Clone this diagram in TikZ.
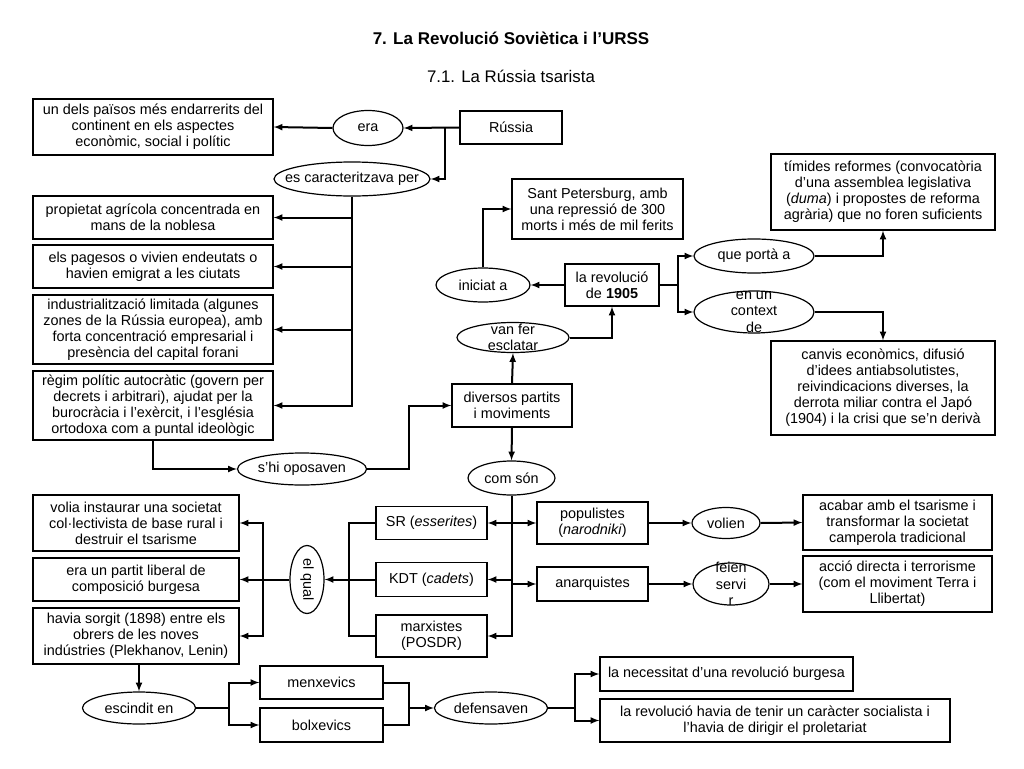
\documentclass[tikz,border=0pt]{standalone}
\usepackage{fontspec}
\setmainfont{Liberation Sans}
\usepackage{graphicx}
\usetikzlibrary{shapes.geometric}
\newcommand{\flatbox}[1]{\makebox[0pt]{#1}}
\begin{document}
\begin{tikzpicture}[x=1pt, y=-1pt,
    box/.style={draw, line width=1.2pt, align=center, inner sep=1pt, font=\fontsize{14.4}{16}\selectfont},
    oval/.style={draw, ellipse, line width=1.2pt, align=center, inner sep=0pt, font=\fontsize{14.4}{16}\selectfont},
    tag/.style={align=center, inner sep=0pt, font=\fontsize{14.4}{16.5}\selectfont},
    arr/.style={-latex, line width=2pt},
    link/.style={line width=2pt}]
    \useasboundingbox (0,0) rectangle (1024,768);

    % Titles
    \node[font=\bfseries\fontsize{17}{20}\selectfont] (title) at (511,38) {7. La Revolució Soviètica i l’URSS};
    \node[font=\fontsize{16.8}{20}\selectfont] (subtitle) at (511,76) {7.1. La Rússia tsarista};

    % Russia and its features
    \node[box, minimum width=102, minimum height=33] (russia) at (511,127.5) {Rússia};
    \node[oval, minimum width=70, minimum height=35] (era) at (368,128) {\flatbox{era}};
    \node[box, minimum width=240, minimum height=56] (endarrerit) at (153,127) {un dels països més endarrerits del\\continent en els aspectes\\econòmic, social i polític};
    \node[oval, minimum width=156, minimum height=34] (caract) at (352,179) {\flatbox{es caracteritzava per}};
    \node[box, minimum width=240, minimum height=43] (propietat) at (153,217.5) {propietat agrícola concentrada en\\mans de la noblesa};
    \node[box, minimum width=240, minimum height=43] (pagesos) at (153,266.5) {els pagesos o vivien endeutats o\\havien emigrat a les ciutats};
    \node[box, minimum width=240, minimum height=69] (industria) at (153,329.5) {industrialització limitada (algunes\\zones de la Rússia europea), amb\\forta concentració empresarial i\\presència del capital forani};
    \node[box, minimum width=240, minimum height=69] (regim) at (153,405.5) {règim polític autocràtic (govern per\\decrets i arbitrari), ajudat per la\\burocràcia i l’exèrcit, i l’església\\ortodoxa com a puntal ideològic};

    % Opposition and 1905
    \node[oval, minimum width=129, minimum height=32] (oposen) at (302,469) {\flatbox{s’hi oposaven}};
    \node[box, minimum width=120, minimum height=43] (diversos) at (512,405.5) {diversos partits\\i moviments};
    \node[oval, minimum width=112, minimum height=30, label={[tag]center:van fer\\esclatar}] (vanfer) at (513,337.5) {};
    \node[box, minimum width=94, minimum height=42] (revol) at (612,285) {la revolució\\de \textbf{1905}};
    \node[oval, minimum width=94, minimum height=34] (iniciat) at (483,285) {\flatbox{iniciat a}};
    \node[box, minimum width=171, minimum height=60] (sant) at (597.5,209) {Sant Petersburg, amb\\una repressió de 300\\morts i més de mil ferits};
    \node[oval, minimum width=120, minimum height=34] (porta) at (754,256) {\flatbox{que portà a}};
    \node[oval, minimum width=120, minimum height=42, label={[tag]center:en un\\context\\de}] (context) at (754,312) {};
    \node[box, minimum width=224, minimum height=76] (timides) at (883,192) {tímides reformes (convocatòria\\d’una assemblea legislativa\\(\textit{duma}) i propostes de reforma\\agrària) que no foren suficients};
    \node[box, minimum width=224, minimum height=94] (canvis) at (883,388) {canvis econòmics, difusió\\d’idees antiabsolutistes,\\reivindicacions diverses, la\\derrota miliar contra el Japó\\(1904) i la crisi que se’n derivà};

    % Parties
    \node[oval, minimum width=87, minimum height=34] (comson) at (511.5,478) {\flatbox{com són}};
    \node[box, minimum width=111, minimum height=33] (sr) at (431.5,523) {SR (\textit{esserites})};
    \node[box, minimum width=111, minimum height=34] (kdt) at (431.5,579.5) {KDT (\textit{cadets})};
    \node[box, minimum width=111, minimum height=42] (marx) at (431.5,636) {marxistes\\(POSDR)};
    \node[box, minimum width=111, minimum height=42] (popul) at (592.5,523) {populistes\\(\textit{narodniki})};
    \node[box, minimum width=111, minimum height=34] (anarq) at (592.5,584) {anarquistes};
    \node[oval, minimum width=68, minimum height=31] (volien) at (726,523) {\flatbox{volien}};
    \node[oval, minimum width=76, minimum height=42, label={[tag]center:feien\\servi\\r}] (feien) at (731,584) {};
    \node[box, minimum width=189, minimum height=55] (acabar) at (897.5,522.5) {acabar amb el tsarisme i\\transformar la societat\\camperola tradicional};
    \node[box, minimum width=189, minimum height=56] (accio) at (897.5,584) {acció directa i terrorisme\\(com el moviment Terra i\\Llibertat)};
    \node[oval, minimum width=34, minimum height=68] (elqual) at (307,579.5) {\rotatebox{-90}{\flatbox{el qual}}};
    \node[box, minimum width=206, minimum height=56] (volia) at (136,523) {volia instaurar una societat\\col·lectivista de base rural i\\destruir el tsarisme};
    \node[box, minimum width=206, minimum height=43] (partit) at (136,579.5) {era un partit liberal de\\composició burgesa};
    \node[box, minimum width=206, minimum height=56] (sorgit) at (136,636) {havia sorgit (1898) entre els\\obrers de les noves\\indústries (Plekhanov, Lenin)};

    % Split of the marxists
    \node[oval, minimum width=113, minimum height=32] (escind) at (139,708) {\flatbox{escindit en}};
    \node[box, minimum width=123, minimum height=33] (menx) at (321.5,682.5) {menxevics};
    \node[box, minimum width=123, minimum height=34] (bolx) at (321.5,725) {bolxevics};
    \node[oval, minimum width=113, minimum height=32] (defens) at (491,708) {\flatbox{defensaven}};
    \node[box, minimum width=253, minimum height=34] (necess) at (726.5,674) {la necessitat d’una revolució burgesa};
    \node[box, minimum width=350, minimum height=43] (social) at (775,720.5) {la revolució havia de tenir un caràcter socialista i\\l’havia de dirigir el proletariat};

    % Connectors: Russia
    \draw[arr] (russia.west) -- (era.east);
    \draw[arr] (era.west) -- (endarrerit.east);
    \coordinate (j1) at (445,127.5);
    \draw[arr] (j1) |- (caract.east);
    \draw[arr] (caract.south) |- (regim.east);
    \draw[arr] (caract.south |- propietat.east) -- (propietat.east);
    \draw[arr] (caract.south |- pagesos.east) -- (pagesos.east);
    \draw[arr] (caract.south |- industria.east) -- (industria.east);

    % Connectors: 1905
    \draw[arr] (regim.south) |- (oposen.west);
    \draw[arr] (oposen.east) -- ++(42,0) |- (diversos.west);
    \draw[arr] (diversos.north) -- (vanfer.south);
    \draw[arr] (vanfer.east) -| (revol.south);
    \draw[arr] (revol.west) -- (iniciat.east);
    \draw[arr] (iniciat.north) |- (sant.west);
    \draw[link] (revol.east) -- ++(18,0) coordinate (j2);
    \draw[arr] (j2) |- (porta.west);
    \draw[arr] (j2) |- (context.west);
    \draw[arr] (porta.east) -| (timides.south);
    \draw[arr] (context.east) -| (canvis.north);

    % Connectors: parties
    \draw[arr] (diversos.south) -- (comson.north);
    \draw[arr] (comson.south) |- (marx.east);
    \draw[arr] (comson.south |- sr.east) -- (sr.east);
    \draw[arr] (comson.south |- sr.east) -- (popul.west);
    \draw[arr] (comson.south |- kdt.east) -- (kdt.east);
    \draw[arr] (comson.south |- anarq.west) -- (anarq.west);
    \draw[arr] (popul.east) -- (volien.west);
    \draw[arr] (volien.east) -- (acabar.west);
    \draw[arr] (anarq.east) -- (feien.west);
    \draw[arr] (feien.east) -- (accio.west);
    \draw[link] (sr.west) -- ++(-26,0) |- (marx.west);
    \draw[arr] (kdt.west) -- (elqual.east);
    \draw[link] (elqual.west) -- ++(-26,0) coordinate (j3);
    \draw[arr] (j3) |- (volia.east);
    \draw[arr] (j3) |- (sorgit.east);
    \draw[arr] (j3) -- (partit.east);

    % Connectors: split
    \draw[arr] (escind.north |- sorgit.south) -- (escind.north);
    \draw[link] (escind.east) -- ++(33,0) coordinate (j4);
    \draw[arr] (j4) |- (menx.west);
    \draw[arr] (j4) |- (bolx.west);
    \draw[link] (menx.east) -- ++(25,0) coordinate (j5) |- (bolx.east);
    \draw[arr] (j5 |- defens.west) -- (defens.west);
    \draw[link] (defens.east) -- ++(27,0) coordinate (j6);
    \draw[arr] (j6) |- (necess.west);
    \draw[arr] (j6) |- (social.west);
\end{tikzpicture}
\end{document}
